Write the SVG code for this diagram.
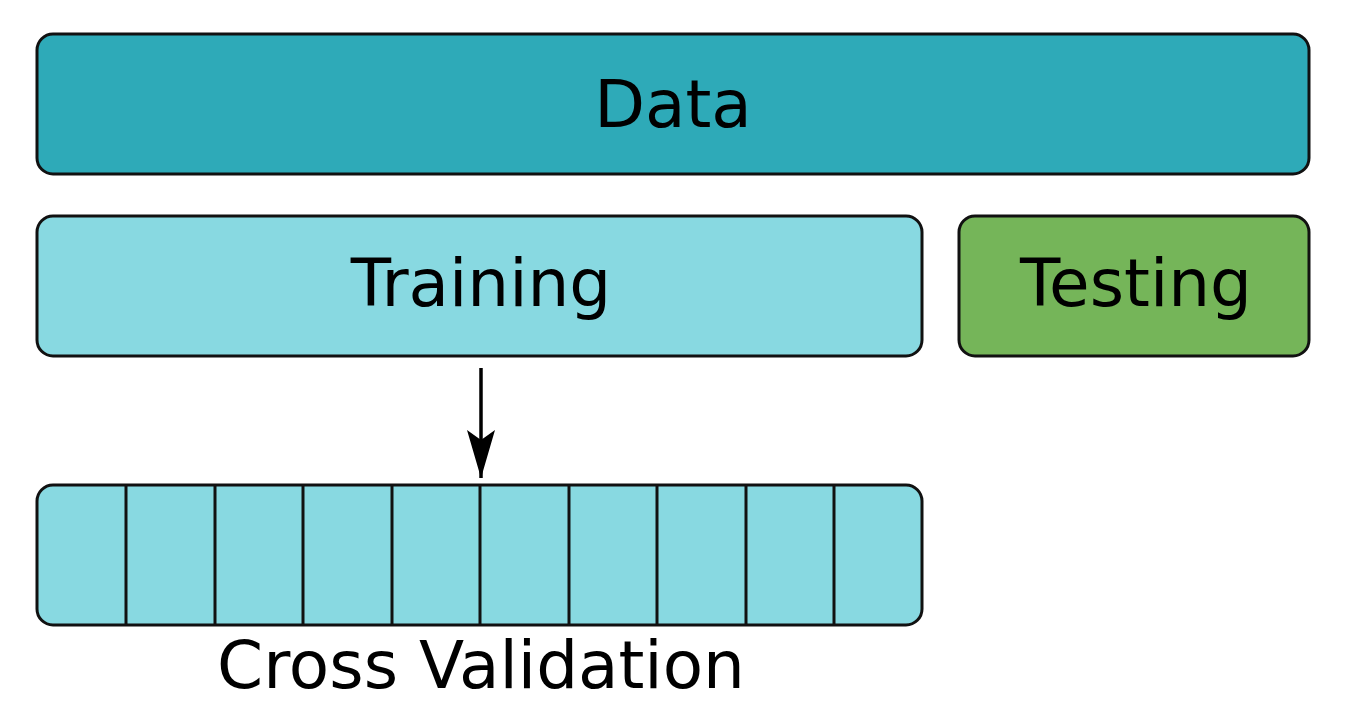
<svg xmlns="http://www.w3.org/2000/svg" width="1346" height="723" viewBox="0 0 1346 723">
<style>
.b{stroke:#111;stroke-width:3}
.t{font-family:"DejaVu Sans",sans-serif;font-size:66px;fill:#000;text-anchor:middle}
.d{stroke:#111;stroke-width:3}
</style>
<defs><marker id="ah" markerWidth="10" markerHeight="12" refX="9" refY="6" orient="auto" markerUnits="userSpaceOnUse" viewBox="0 0 10 12"><path d="M0,0 L10,6 L0,12 L3,6 Z" fill="#000"/></marker></defs>
<rect width="1346" height="723" fill="#fff"/>
<g id="data"><rect class="b" x="37" y="34" width="1272" height="140" rx="16" fill="#2EAAB8"/><text class="t" x="673" y="127">Data</text></g>
<g id="training"><rect class="b" x="37" y="216" width="885" height="140" rx="16" fill="#88D9E1"/><text class="t" x="481" y="306">Training</text></g>
<g id="testing"><rect class="b" x="959" y="216" width="350" height="140" rx="16" fill="#75B559"/><text class="t" x="1136" y="306">Testing</text></g>
<g id="cv"><rect class="b" x="37" y="485" width="885" height="140" rx="16" fill="#88D9E1"/>
<g class="d"><line x1="126" y1="485" x2="126" y2="625"/><line x1="215" y1="485" x2="215" y2="625"/><line x1="303" y1="485" x2="303" y2="625"/><line x1="392" y1="485" x2="392" y2="625"/><line x1="480" y1="485" x2="480" y2="625"/><line x1="569" y1="485" x2="569" y2="625"/><line x1="657" y1="485" x2="657" y2="625"/><line x1="746" y1="485" x2="746" y2="625"/><line x1="834" y1="485" x2="834" y2="625"/></g>
<text class="t" x="481" y="688">Cross Validation</text></g>
<g id="connectors"><path d="M481,368 V478" stroke="#000" stroke-width="3.5" fill="none"/><path d="M481,478 L467,430 L481,440 L495,430 Z" fill="#000"/></g>
</svg>
